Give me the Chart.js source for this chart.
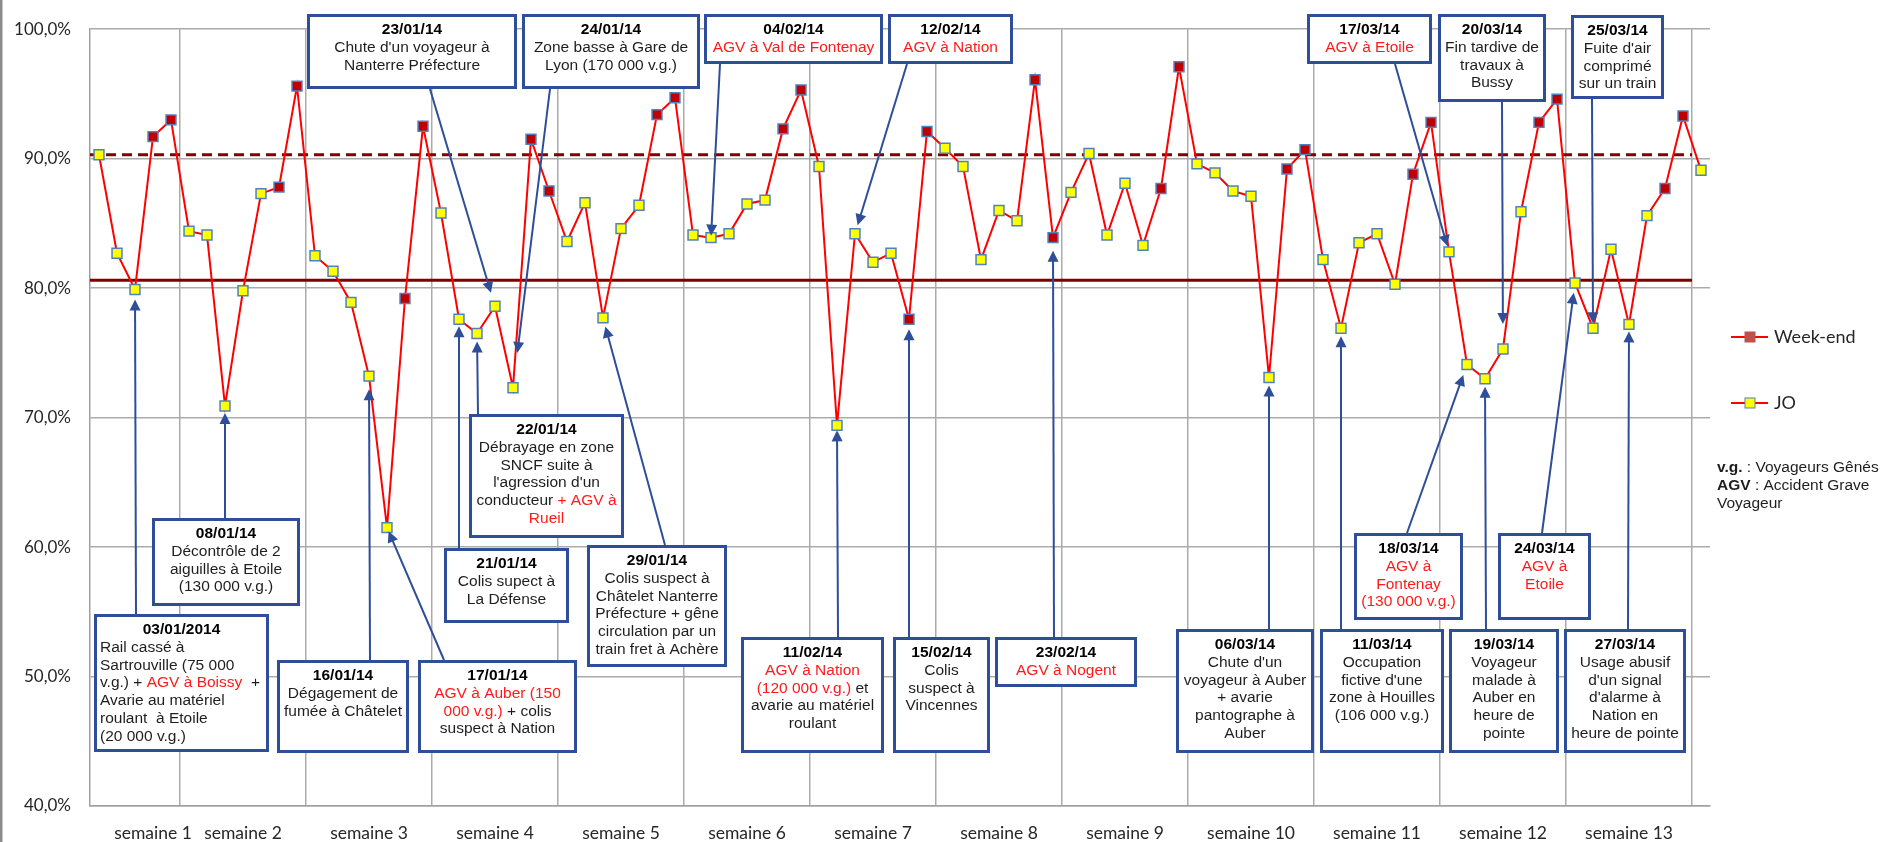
<!DOCTYPE html>
<html lang="fr">
<head>
<meta charset="utf-8">
<title>Régularité quotidienne - janvier à mars 2014</title>
<script src="https://cdn.jsdelivr.net/npm/chart.js@4.4.1/dist/chart.umd.min.js"></script>
<style>
  html, body { margin: 0; padding: 0; background: #fff; }
  canvas { display: block; }
</style>
</head>
<body>
<canvas id="regulariteChart" width="1886" height="842"></canvas>
<script>
// taux de régularité quotidien (%), du 01/01/2014 au 31/03/2014
const tauxJanvier = [90.3, 82.7, 79.9, 91.7, 93.0, 84.4, 84.1, 70.9, 79.8, 87.3,
                     87.8, 95.6, 82.5, 81.3, 78.9, 73.2, 61.5, 79.2, 92.5, 85.8,
                     77.6, 76.5, 78.6, 72.3, 91.5, 87.5, 83.6, 86.6, 77.7, 84.6,
                     86.4];
const tauxFevrier = [93.4, 94.7, 84.1, 83.9, 84.2, 86.5, 86.8, 92.3, 95.3, 89.4,
                     69.4, 84.2, 82.0, 82.7, 77.6, 92.1, 90.8, 89.4, 82.2, 86.0,
                     85.2, 96.1, 83.9, 87.4, 90.4, 84.1, 88.1, 83.3];
const tauxMars    = [87.7, 97.1, 89.6, 88.9, 87.5, 87.1, 73.1, 89.2, 90.7, 82.2,
                     76.9, 83.5, 84.2, 80.3, 88.8, 92.8, 82.8, 74.1, 73.0, 75.3,
                     85.9, 92.8, 94.6, 80.4, 76.9, 83.0, 77.2, 85.6, 87.7, 93.3,
                     89.1];
const taux = [...tauxJanvier, ...tauxFevrier, ...tauxMars];

const objectif = 90.3;   // ligne pointillée
const seuil = 80.6;      // ligne pleine

const semaines = ['semaine 1', 'semaine 2', 'semaine 3', 'semaine 4', 'semaine 5', 'semaine 6',
                  'semaine 7', 'semaine 8', 'semaine 9', 'semaine 10', 'semaine 11', 'semaine 12', 'semaine 13'];

// jours (catégories) et repérage des week-ends
const jours = [];
const weekEnd = [];
for (let i = 0; i < taux.length; i++) {
    const d = new Date(2014, 0, 1 + i);
    jours.push(String(d.getDate()).padStart(2, '0') + '/' + String(d.getMonth() + 1).padStart(2, '0'));
    weekEnd.push(d.getDay() === 0 || d.getDay() === 6);
}
// un libellé par semaine (lundi -> dimanche)
const posSemaines = semaines.map((s, k) => k === 0 ? 3 : 7 * k + 1);

// événements commentés : texte entre * = en rouge
const evenements = [
    { date: '03/01/2014', jour: 2, texte: ['Rail cassé à', 'Sartrouville (75 000', 'v.g.) + *AGV à Boissy*  +', 'Avarie au matériel', 'roulant  à Etoile', '(20 000 v.g.)'] },
    { date: '08/01/14', jour: 7, texte: ['Décontrôle de 2', 'aiguilles à Etoile', '(130 000 v.g.)'] },
    { date: '16/01/14', jour: 15, texte: ['Dégagement de', 'fumée à Châtelet'] },
    { date: '17/01/14', jour: 16, texte: ['*AGV à Auber (150*', '*000 v.g.)* + colis', 'suspect à Nation'] },
    { date: '21/01/14', jour: 20, texte: ['Colis supect à', 'La Défense'] },
    { date: '22/01/14', jour: 21, texte: ['Débrayage en zone', 'SNCF suite à', "l'agression d'un", 'conducteur *+ AGV à*', '*Rueil*'] },
    { date: '23/01/14', jour: 22, texte: ["Chute d'un voyageur à", 'Nanterre Préfecture'] },
    { date: '24/01/14', jour: 23, texte: ['Zone basse à Gare de', 'Lyon (170 000 v.g.)'] },
    { date: '29/01/14', jour: 28, texte: ['Colis suspect à', 'Châtelet Nanterre', 'Préfecture + gêne', 'circulation par un', 'train fret à Achère'] },
    { date: '04/02/14', jour: 34, texte: ['*AGV à Val de Fontenay*'] },
    { date: '11/02/14', jour: 41, texte: ['*AGV à Nation*', '*(120 000 v.g.)* et', 'avarie au matériel', 'roulant'] },
    { date: '12/02/14', jour: 42, texte: ['*AGV à Nation*'] },
    { date: '15/02/14', jour: 45, texte: ['Colis', 'suspect à', 'Vincennes'] },
    { date: '23/02/14', jour: 53, texte: ['*AGV à Nogent*'] },
    { date: '06/03/14', jour: 65, texte: ["Chute d'un", 'voyageur à Auber', '+ avarie', 'pantographe à', 'Auber'] },
    { date: '11/03/14', jour: 69, texte: ['Occupation', "fictive d'une", 'zone à Houilles', '(106 000 v.g.)'] },
    { date: '17/03/14', jour: 75, texte: ['*AGV à Etoile*'] },
    { date: '18/03/14', jour: 76, texte: ['*AGV à*', '*Fontenay*', '*(130 000 v.g.)*'] },
    { date: '19/03/14', jour: 77, texte: ['Voyageur', 'malade à', 'Auber en', 'heure de', 'pointe'] },
    { date: '20/03/14', jour: 78, texte: ['Fin tardive de', 'travaux à', 'Bussy'] },
    { date: '24/03/14', jour: 82, texte: ['*AGV à*', '*Etoile*'] },
    { date: '25/03/14', jour: 83, texte: ["Fuite d'air", 'comprimé', 'sur un train'] },
    { date: '27/03/14', jour: 85, texte: ['Usage abusif', "d'un signal", "d'alarme à", 'Nation en', 'heure de pointe'] }
];

// mise en page des encadrés (px) : boîte, départ de la flèche, retrait de la pointe
const boites = [
    { x: 94, y: 614, w: 175, h: 138, dep: [136, 614], ecart: 10, gauche: true },
    { x: 152, y: 518, w: 148, h: 88, dep: [225, 518], ecart: 7 },
    { x: 277, y: 660, w: 132, h: 93, dep: [370, 660], ecart: 13 },
    { x: 418, y: 660, w: 159, h: 93, dep: [444, 660], ecart: 4 },
    { x: 444, y: 548, w: 125, h: 75, dep: [459, 548], ecart: 7 },
    { x: 469, y: 414, w: 155, h: 124, dep: [478, 414], ecart: 8 },
    { x: 307, y: 14, w: 210, h: 75, dep: [430, 89], ecart: 14 },
    { x: 522, y: 14, w: 178, h: 75, dep: [550, 89], ecart: 35 },
    { x: 587, y: 545, w: 140, h: 122, dep: [665, 545], ecart: 9 },
    { x: 704, y: 14, w: 179, h: 50, dep: [720, 64], ecart: 2 },
    { x: 741, y: 637, w: 143, h: 116, dep: [838, 637], ecart: 5 },
    { x: 888, y: 14, w: 125, h: 50, dep: [907, 64], ecart: 9 },
    { x: 893, y: 637, w: 97, h: 116, dep: [909, 637], ecart: 10 },
    { x: 995, y: 637, w: 142, h: 50, dep: [1054, 637], ecart: 13 },
    { x: 1176, y: 629, w: 138, h: 124, dep: [1269, 629], ecart: 8 },
    { x: 1320, y: 629, w: 124, h: 124, dep: [1341, 629], ecart: 8 },
    { x: 1307, y: 14, w: 125, h: 50, dep: [1395, 64], ecart: 6 },
    { x: 1354, y: 533, w: 109, h: 87, dep: [1407, 533], ecart: 11 },
    { x: 1449, y: 629, w: 110, h: 124, dep: [1486, 629], ecart: 8 },
    { x: 1438, y: 14, w: 108, h: 88, dep: [1502, 102], ecart: 25 },
    { x: 1498, y: 533, w: 93, h: 87, dep: [1542, 533], ecart: 10 },
    { x: 1571, y: 15, w: 93, h: 84, dep: [1592, 99], ecart: 5 },
    { x: 1564, y: 629, w: 122, h: 124, dep: [1628, 629], ecart: 7 }
];

const BLEU = '#2E4E9A';
const ROUGE_TXT = '#FF1A1A';
const POLICE = '"Liberation Sans", Arial, sans-serif';
const POLICE_AXE = 'Lato, "Liberation Sans", sans-serif';

function drawRichLine(ctx, line, x, y, gauche) {
    const parts = line.split('*');
    const widths = parts.map(p => ctx.measureText(p).width);
    const total = widths.reduce((a, b) => a + b, 0);
    let cx = gauche ? x : x - total / 2;
    ctx.textAlign = 'left';
    parts.forEach((p, i) => {
        ctx.fillStyle = i % 2 ? ROUGE_TXT : '#1e1e1e';
        ctx.fillText(p, cx, y);
        cx += widths[i];
    });
}

const annotationsPlugin = {
    id: 'annotations',
    beforeDatasetsDraw(chart) {
        const { ctx, chartArea, scales: { x, y } } = chart;
        const xEnd = (x.getPixelForValue(taux.length - 2) + x.getPixelForValue(taux.length - 1)) / 2;
        ctx.save();
        ctx.strokeStyle = '#7F0000';
        ctx.lineWidth = 3;
        ctx.setLineDash([10, 6]);
        ctx.beginPath();
        ctx.moveTo(chartArea.left, y.getPixelForValue(objectif));
        ctx.lineTo(xEnd, y.getPixelForValue(objectif));
        ctx.stroke();
        ctx.setLineDash([]);
        ctx.beginPath();
        ctx.moveTo(chartArea.left, y.getPixelForValue(seuil));
        ctx.lineTo(xEnd, y.getPixelForValue(seuil));
        ctx.stroke();
        ctx.restore();
    },
    afterDatasetsDraw(chart) {
        const { ctx, scales: { x, y } } = chart;
        ctx.save();
        // flèches
        evenements.forEach((ev, i) => {
            const b = boites[i];
            const px = x.getPixelForValue(ev.jour);
            const py = y.getPixelForValue(taux[ev.jour]);
            const [sx, sy] = b.dep;
            const len = Math.hypot(px - sx, py - sy);
            const ux = (px - sx) / len, uy = (py - sy) / len;
            const tx = px - ux * b.ecart, ty = py - uy * b.ecart;
            const head = 11, half = 5.5;
            ctx.strokeStyle = BLEU;
            ctx.fillStyle = BLEU;
            ctx.lineWidth = 2;
            ctx.beginPath();
            ctx.moveTo(sx, sy);
            ctx.lineTo(tx - ux * head * 0.8, ty - uy * head * 0.8);
            ctx.stroke();
            ctx.beginPath();
            ctx.moveTo(tx, ty);
            ctx.lineTo(tx - ux * head - uy * half, ty - uy * head + ux * half);
            ctx.lineTo(tx - ux * head + uy * half, ty - uy * head - ux * half);
            ctx.closePath();
            ctx.fill();
        });
        // encadrés
        evenements.forEach((ev, i) => {
            const b = boites[i];
            ctx.fillStyle = '#fff';
            ctx.fillRect(b.x, b.y, b.w, b.h);
            ctx.strokeStyle = BLEU;
            ctx.lineWidth = 3;
            ctx.strokeRect(b.x + 1.5, b.y + 1.5, b.w - 3, b.h - 3);
            const cx = b.x + b.w / 2;
            let ly = b.y + 15.7;
            ctx.textBaseline = 'middle';
            ctx.textAlign = 'center';
            ctx.font = 'bold 15.5px ' + POLICE;
            ctx.fillStyle = '#000';
            ctx.fillText(ev.date, cx, ly);
            ctx.font = '15.5px ' + POLICE;
            ev.texte.forEach(line => {
                ly += 17.8;
                drawRichLine(ctx, line, b.gauche ? b.x + 6 : cx, ly, b.gauche);
            });
        });
        ctx.restore();
    },
    afterDraw(chart) {
        const { ctx } = chart;
        ctx.save();
        // bord gauche
        ctx.fillStyle = '#8C8C8C';
        ctx.fillRect(0, 0, 2.5, chart.height);
        // légende
        const items = [
            { label: 'Week-end', fond: '#C0504D', bord: '#C0504D', y: 337 },
            { label: 'JO', fond: '#FFFF00', bord: '#4F81BD', y: 403 }
        ];
        items.forEach(it => {
            ctx.strokeStyle = '#FF0000';
            ctx.lineWidth = 2;
            ctx.beginPath();
            ctx.moveTo(1731, it.y);
            ctx.lineTo(1768, it.y);
            ctx.stroke();
            ctx.fillStyle = it.fond;
            ctx.fillRect(1745, it.y - 5, 10, 10);
            ctx.strokeStyle = it.bord;
            ctx.lineWidth = 1;
            ctx.strokeRect(1745, it.y - 5, 10, 10);
            ctx.fillStyle = '#262626';
            ctx.font = '18px ' + POLICE_AXE;
            ctx.textAlign = 'left';
            ctx.textBaseline = 'middle';
            ctx.fillText(it.label, 1774, it.y);
        });
        // notes
        const notes = [
            [['v.g.', true], [' : Voyageurs Gênés', false]],
            [['AGV', true], [' : Accident Grave', false]],
            [['Voyageur', false]]
        ];
        notes.forEach((parts, k) => {
            let nx = 1717;
            parts.forEach(([t, gras]) => {
                ctx.font = (gras ? 'bold ' : '') + '15.5px ' + POLICE;
                ctx.fillStyle = '#1e1e1e';
                ctx.fillText(t, nx, 468 + k * 17.8);
                nx += ctx.measureText(t).width;
            });
        });
        ctx.restore();
    }
};

const ctx = document.getElementById('regulariteChart').getContext('2d');
window.regulariteChart = new Chart(ctx, {
    type: 'line',
    data: {
        labels: jours,
        datasets: [{
            label: 'Régularité',
            data: taux,
            borderColor: '#FF0000',
            borderWidth: 2,
            tension: 0,
            pointStyle: 'rect',
            pointRadius: 7,
            pointBackgroundColor: (c) => weekEnd[c.dataIndex] ? '#C00000' : '#FFFF00',
            pointBorderColor: '#4F81BD',
            pointBorderWidth: 1.5
        }]
    },
    options: {
        responsive: false,
        animation: false,
        layout: { padding: { top: 19, right: 176, left: 0, bottom: 0 } },
        plugins: {
            legend: { display: false },
            tooltip: { enabled: false }
        },
        scales: {
            x: {
                offset: true,
                grid: {
                    offset: true,
                    drawTicks: false,
                    lineWidth: 1.5,
                    color: (c) => (c.index >= 5 && c.index < taux.length && (c.index - 5) % 7 === 0) ? '#ABABAB' : 'transparent'
                },
                border: { display: true, color: '#A0A0A0', width: 1.5 },
                ticks: {
                    autoSkip: false,
                    maxRotation: 0,
                    minRotation: 0,
                    padding: 17,
                    color: '#262626',
                    font: { family: POLICE_AXE, size: 17.5 },
                    callback: (v, i) => {
                        const k = posSemaines.indexOf(i);
                        return k >= 0 ? semaines[k] : '';
                    }
                },
                afterFit: (s) => { s.height = 36; }
            },
            y: {
                min: 40,
                max: 100,
                grid: { drawTicks: false, color: '#ABABAB', lineWidth: 1.5 },
                border: { display: true, color: '#A0A0A0', width: 1.5 },
                ticks: {
                    stepSize: 10,
                    padding: 19,
                    color: '#262626',
                    font: { family: POLICE_AXE, size: 17 },
                    callback: (v) => v.toFixed(1).replace('.', ',') + '%'
                },
                afterFit: (s) => { s.width = 90; }
            }
        }
    },
    plugins: [annotationsPlugin]
});
</script>
</body>
</html>
